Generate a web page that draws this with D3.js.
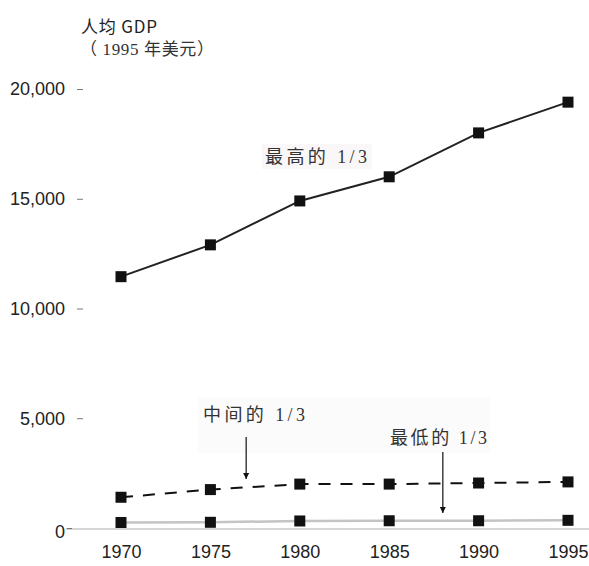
<!DOCTYPE html>
<html><head><meta charset="utf-8">
<script src="https://cdn.jsdelivr.net/npm/d3@7"></script>
<style>body{margin:0;background:#fff}svg{display:block}</style>
</head><body>
<svg id="chart" width="589" height="566"></svg>
<script>
const years = [1970, 1975, 1980, 1985, 1990, 1995];
const topThird = [11450, 12900, 14900, 16000, 18000, 19400];
const middleThird = [1400, 1750, 2000, 2000, 2050, 2100];
const bottomThird = [250, 260, 320, 330, 330, 350];
const yTicks = [0, 5000, 10000, 15000, 20000];
const seriesLabels = ["最高的 1/3", "中间的 1/3", "最低的 1/3"];
const titleLines = ["人均 GDP", "（ 1995 年美元）"];

const svg = d3.select("#chart");
const x = d3.scaleLinear().domain([1970, 1995]).range([121, 568]);
const y = d3.scaleLinear().domain([0, 20000]).range([528, 89]);

// faint background patches (scan artefacts)
svg.append("rect").attr("x", 198).attr("y", 397).attr("width", 292).attr("height", 56).attr("fill", "#fbfbfb");
svg.append("rect").attr("x", 262).attr("y", 144).attr("width", 110).attr("height", 25).attr("fill", "#f9f7f7");

// baseline
svg.append("line").attr("x1", 66).attr("x2", 589).attr("y1", y(0) + 1).attr("y2", y(0) + 1)
  .attr("stroke", "#c8c8c8").attr("stroke-width", 1.5);

// y axis (no domain line)
const yAxis = d3.axisLeft(y).tickValues(yTicks).tickSize(6).tickPadding(12)
  .tickFormat(d3.format(","));
const gy = svg.append("g").attr("transform", "translate(83,0)").call(yAxis);
gy.select(".domain").remove();
gy.selectAll(".tick line").attr("stroke", "#777").attr("stroke-width", 1);
gy.selectAll(".tick text").attr("font-family", "'Liberation Sans', Arial, sans-serif")
  .attr("font-size", 18).attr("fill", "#222");
gy.selectAll(".tick").filter(d => d === 0).select("text").attr("dy", "0.55em").attr("x", -18);
gy.selectAll(".tick").filter(d => d === 0).select("line").attr("x1", -16).attr("x2", -11);

// x axis
const xAxis = d3.axisBottom(x).tickValues(years).tickSize(0).tickPadding(0).tickFormat(d3.format("d"));
const gx = svg.append("g").attr("transform", "translate(0,545)").call(xAxis);
gx.select(".domain").remove();
gx.selectAll(".tick text").attr("font-family", "'Liberation Sans', Arial, sans-serif")
  .attr("font-size", 18).attr("fill", "#222").attr("dy", "0.71em");

// title
svg.append("text").attr("x", 81).attr("y", 33).text(titleLines[0])
  .attr("font-family", "'Noto Sans CJK SC', sans-serif").attr("font-size", 17).attr("fill", "#222")
  .attr("textLength", 76).attr("lengthAdjust", "spacing");
svg.append("text").attr("x", 80).attr("y", 55).text(titleLines[1])
  .attr("font-family", "'Liberation Serif', 'Noto Sans CJK SC', serif").attr("font-size", 17)
  .attr("fill", "#333").attr("textLength", 134).attr("lengthAdjust", "spacing");

const line = d3.line().x((d, i) => x(years[i])).y(d => y(d));

function drawSeries(vals, stroke, width, dash) {
  svg.append("path").datum(vals).attr("d", line).attr("fill", "none")
    .attr("stroke", stroke).attr("stroke-width", width)
    .attr("stroke-dasharray", dash || null);
  svg.append("g").selectAll("rect").data(vals).join("rect")
    .attr("x", (d, i) => x(years[i]) - 5.5).attr("y", d => y(d) - 5.5)
    .attr("width", 11).attr("height", 11).attr("fill", "#111");
}
drawSeries(bottomThird, "#c4c4c4", 2.5);
drawSeries(middleThird, "#111", 2, "12,10");
drawSeries(topThird, "#222", 2);

// annotations
const annFont = "'Liberation Serif', 'Noto Sans CJK SC', serif";
svg.append("text").attr("x", 265).attr("y", 163).text(seriesLabels[0])
  .attr("font-family", annFont).attr("font-size", 18).attr("fill", "#333")
  .attr("textLength", 102).attr("lengthAdjust", "spacing");
svg.append("text").attr("x", 203).attr("y", 421).text(seriesLabels[1])
  .attr("font-family", annFont).attr("font-size", 18).attr("fill", "#333")
  .attr("textLength", 102).attr("lengthAdjust", "spacing");
svg.append("text").attr("x", 390).attr("y", 444).text(seriesLabels[2])
  .attr("font-family", annFont).attr("font-size", 18).attr("fill", "#333")
  .attr("textLength", 97).attr("lengthAdjust", "spacing");

svg.append("defs").append("marker").attr("id", "arr").attr("viewBox", "0 0 10 10")
  .attr("refX", 10).attr("refY", 5).attr("markerWidth", 6).attr("markerHeight", 8)
  .attr("orient", "auto").attr("markerUnits", "userSpaceOnUse")
  .append("path").attr("d", "M0,0 L10,5 L0,10 Z").attr("fill", "#111");

function arrow(xv, y1, y2) {
  svg.append("line").attr("x1", xv).attr("x2", xv).attr("y1", y1).attr("y2", y2)
    .attr("stroke", "#111").attr("stroke-width", 1.2).attr("marker-end", "url(#arr)");
}
arrow(x(1977), 437, 479);
arrow(x(1988), 452, 513);
</script>
</body></html>
